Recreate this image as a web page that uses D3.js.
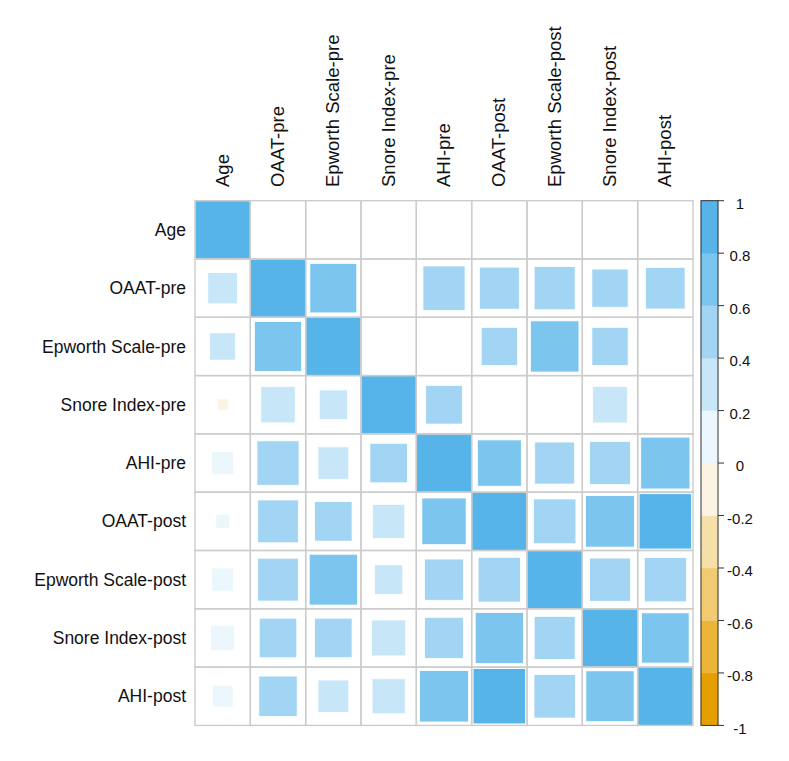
<!DOCTYPE html>
<html>
<head>
<meta charset="utf-8">
<script src="https://cdn.jsdelivr.net/npm/d3@7"></script>
<style>
  html, body { margin: 0; padding: 0; background: #ffffff; }
  svg { display: block; }
  text { font-family: "Liberation Sans", Arial, sans-serif; fill: #111111; }
</style>
</head>
<body>
<svg id="chart" width="789" height="761"></svg>
<script>
// ---- data ----
const labels = ["Age", "OAAT-pre", "Epworth Scale-pre", "Snore Index-pre", "AHI-pre",
                "OAAT-post", "Epworth Scale-post", "Snore Index-post", "AHI-post"];

// correlation rows (null = not shown / non-significant)
const rowAge         = [1,    null, null, null, null, null, null, null, null];
const rowOAATpre     = [0.29, 1,    0.72, null, 0.58, 0.52, 0.55, 0.43, 0.51];
const rowEpworthPre  = [0.22, 0.73, 1,    null, null, 0.43, 0.77, 0.43, null];
const rowSnorePre    = [-0.04, 0.385, 0.26, 1,  0.44, null, null, 0.39, null];
const rowAHIpre      = [0.16, 0.58, 0.31, 0.46, 1,    0.63, 0.52, 0.55, 0.79];
const rowOAATpost    = [0.06, 0.54, 0.46, 0.34, 0.64, 1,    0.59, 0.78, 0.90];
const rowEpworthPost = [0.16, 0.54, 0.76, 0.26, 0.50, 0.59, 1,    0.55, 0.58];
const rowSnorePost   = [0.19, 0.46, 0.46, 0.38, 0.50, 0.76, 0.55, 1,    0.74];
const rowAHIpost     = [0.14, 0.48, 0.31, 0.36, 0.78, 0.90, 0.56, 0.76, 1];

const corrRows = [rowAge, rowOAATpre, rowEpworthPre, rowSnorePre, rowAHIpre,
                  rowOAATpost, rowEpworthPost, rowSnorePost, rowAHIpost];

const legendTicks = [1, 0.8, 0.6, 0.4, 0.2, 0, -0.2, -0.4, -0.6, -0.8, -1];
const legendTickLabels = ["1", "0.8", "0.6", "0.4", "0.2", "0", "-0.2", "-0.4", "-0.6", "-0.8", "-1"];
const rampColors = ["#E69F00", "#FFFFFF", "#56B4E9"];

// ---- layout ----
const svg = d3.select("#chart");
const gridLeft = 195, gridRight = 693, gridTop = 200.7, gridBottom = 725.4;

const x = d3.scaleBand().domain(labels).range([gridLeft, gridRight]).padding(0);
const y = d3.scaleBand().domain(labels).range([gridTop, gridBottom]).padding(0);

const interp = d3.piecewise(d3.interpolateRgb, rampColors);
const palette = d3.range(10).map(i => d3.color(interp(i / 9)).formatHex());
const color = d3.scaleQuantize().domain([-1, 1]).range(palette);

const cells = [];
corrRows.forEach((row, i) => row.forEach((v, j) => {
  cells.push({ r: labels[i], c: labels[j], v: v });
}));

const bw = x.bandwidth(), bh = y.bandwidth();

// squares
svg.append("g").selectAll("rect")
  .data(cells.filter(d => d.v !== null))
  .join("rect")
  .attr("x", d => x(d.c) + bw * (1 - Math.sqrt(Math.abs(d.v))) / 2)
  .attr("y", d => y(d.r) + bh * (1 - Math.sqrt(Math.abs(d.v))) / 2)
  .attr("width", d => bw * Math.sqrt(Math.abs(d.v)))
  .attr("height", d => bh * Math.sqrt(Math.abs(d.v)))
  .attr("fill", d => color(Math.min(d.v, 0.9999)))
  .attr("stroke", "#ffffff")
  .attr("stroke-width", 0.8);

// grid
svg.append("g").selectAll("rect")
  .data(cells)
  .join("rect")
  .attr("x", d => x(d.c))
  .attr("y", d => y(d.r))
  .attr("width", bw)
  .attr("height", bh)
  .attr("fill", "none")
  .attr("stroke", "#cccccc")
  .attr("stroke-width", 1.4);

// row labels
svg.append("g").selectAll("text")
  .data(labels)
  .join("text")
  .attr("x", gridLeft - 9)
  .attr("y", d => y(d) + bh / 2)
  .attr("dy", "0.35em")
  .attr("text-anchor", "end")
  .style("font-size", "17.5px")
  .text(d => d);

// column labels
svg.append("g").selectAll("text")
  .data(labels)
  .join("text")
  .attr("transform", d => `translate(${x(d) + bw / 2},187) scale(1,1.06) rotate(-90)`)
  .attr("dy", "0.35em")
  .attr("text-anchor", "start")
  .style("font-size", "17.5px")
  .text(d => d);

// color legend
const barLeft = 701, barWidth = 17;
const ly = d3.scaleLinear().domain([-1, 1]).range([gridBottom, gridTop]);
const bands = d3.range(10).map(i => ({ lo: -1 + i * 0.2, hi: -1 + (i + 1) * 0.2, col: palette[i] }));

svg.append("g").selectAll("rect")
  .data(bands)
  .join("rect")
  .attr("x", barLeft)
  .attr("y", d => ly(d.hi))
  .attr("width", barWidth)
  .attr("height", d => ly(d.lo) - ly(d.hi))
  .attr("fill", d => d.col)
  .attr("stroke", d => d.col)
  .attr("stroke-width", 0.5);

svg.append("rect")
  .attr("x", barLeft).attr("y", gridTop)
  .attr("width", barWidth).attr("height", gridBottom - gridTop)
  .attr("fill", "none").attr("stroke", "#333333").attr("stroke-width", 1);

const lg = svg.append("g");
lg.selectAll("line")
  .data(legendTicks)
  .join("line")
  .attr("x1", barLeft + barWidth).attr("x2", barLeft + barWidth + 6)
  .attr("y1", d => ly(d)).attr("y2", d => ly(d))
  .attr("stroke", "#333333").attr("stroke-width", 1);

lg.selectAll("text")
  .data(legendTicks)
  .join("text")
  .attr("x", 740)
  .attr("y", d => ly(d) + 3)
  .attr("dy", "0.35em")
  .attr("text-anchor", "middle")
  .style("font-size", "15px")
  .text((d, i) => legendTickLabels[i]);
</script>
</body>
</html>
